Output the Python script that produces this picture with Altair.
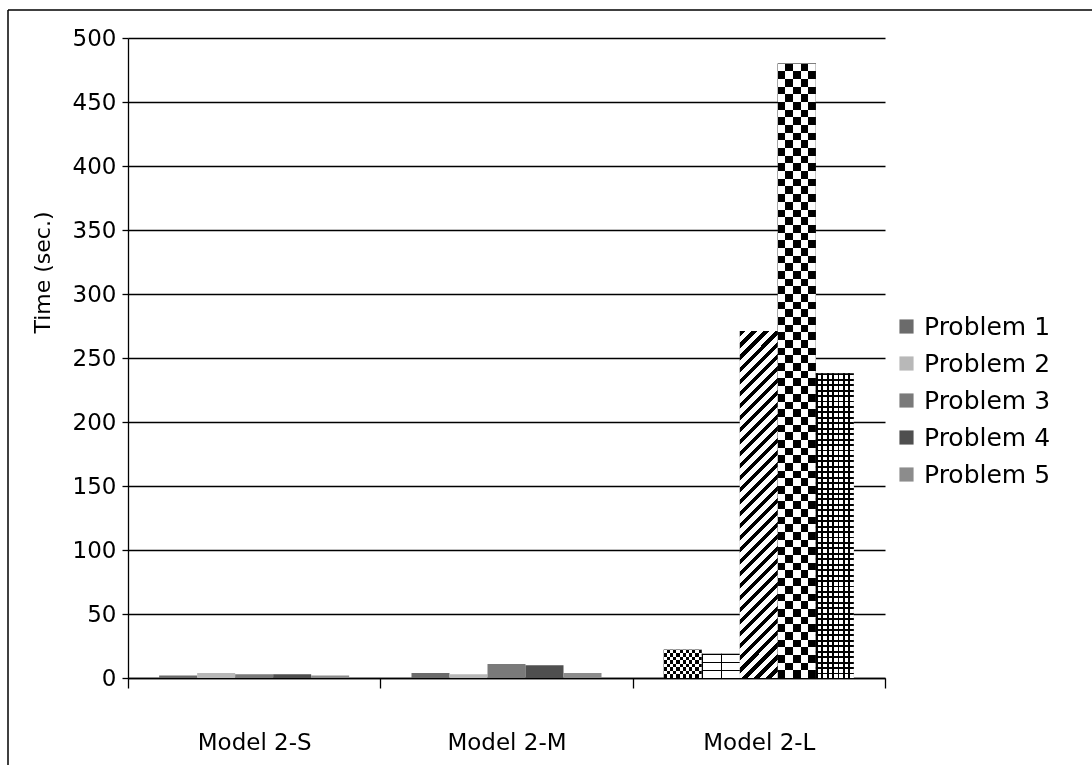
import altair as alt
import pandas as pd

models = ["Model 2-S", "Model 2-M", "Model 2-L"]
problems = ["Problem 1", "Problem 2", "Problem 3", "Problem 4", "Problem 5"]
vals_2s = [2, 4, 3, 3, 2]
vals_2m = [4, 3, 11, 10, 4]
vals_2l = [22, 19, 271, 480, 238]
y_ticks = [0, 50, 100, 150, 200, 250, 300, 350, 400, 450, 500]

rows = []
for m, vals in zip(models, [vals_2s, vals_2m, vals_2l]):
    for p, v in zip(problems, vals):
        rows.append({"model": m, "problem": p, "time": v})
df = pd.DataFrame(rows)

W, H = 757, 640
FONT = "DejaVu Sans"


def stripes(n, frac, c_on, c_off, x2, y2):
    stops = []
    for i in range(n):
        a, b, c = i / n, (i + frac) / n, (i + 1) / n
        stops += [(a, c_on), (b, c_on), (b, c_off), (c, c_off)]
    return {"gradient": "linear", "x1": 0, "y1": 0, "x2": x2, "y2": y2,
            "stops": [{"offset": round(o, 5), "color": col} for o, col in stops]}


BLK, WHT, CLR = "#000000", "#ffffff", "rgba(0,0,0,0)"

x_enc = alt.X("model:N", sort=models, title=None,
              scale=alt.Scale(paddingInner=0, paddingOuter=0),
              axis=alt.Axis(labelAngle=0, tickBand="extent", tickSize=10,
                            labelPadding=43, labelFontSize=23, labelFont=FONT,
                            domainColor="black", tickColor="black", domainWidth=1.5,
                            tickWidth=1.3, labelColor="black", grid=False))
xo_enc = alt.XOffset("problem:N", sort=problems,
                     scale=alt.Scale(domain=problems, paddingInner=0, paddingOuter=0.82))
y_enc = alt.Y("time:Q", title="Time (sec.)",
              scale=alt.Scale(domain=[0, 500], nice=False),
              axis=alt.Axis(values=y_ticks, grid=True, gridColor="black", gridWidth=1.3,
                            domainColor="black", tickColor="black", tickSize=6,
                            domainWidth=1.3, tickWidth=1.3,
                            labelPadding=6, labelFontSize=23, labelFont=FONT,
                            labelColor="black", titleFont=FONT, titleFontSize=22,
                            titleFontWeight="normal", titleColor="black",
                            titleAngle=-90, titleX=-86, titleY=234,
                            titleAlign="center", titleBaseline="middle"))

base = alt.Chart(df).mark_bar().encode(
    x=x_enc, xOffset=xo_enc, y=y_enc,
    color=alt.Color("problem:N", sort=problems,
                    scale=alt.Scale(domain=problems,
                                    range=["#6b6b6b", "#b8b8b8", "#7a7a7a", "#4f4f4f", "#8c8c8c"]),
                    legend=alt.Legend(title=None, orient="none", legendX=766, legendY=276,
                                      symbolType="square", symbolSize=200, symbolStrokeWidth=0,
                                      labelFont=FONT, labelFontSize=25, labelColor="black",
                                      rowPadding=11, labelOffset=5)),
)


def overlay(problem, fill, blend=None):
    kw = {"fill": fill}
    if blend:
        kw["blend"] = blend
    return alt.Chart(df).transform_filter(
        (alt.datum.model == "Model 2-L") & (alt.datum.problem == problem)
    ).mark_bar(**kw).encode(x=x_enc, xOffset=xo_enc, y=y_enc)


layers = [base]
# Problem 1: fine checker
layers.append(overlay("Problem 1", stripes(6, 0.5, BLK, WHT, 1, 0)))
layers.append(overlay("Problem 1", stripes(4, 0.5, WHT, CLR, 0, 1), "difference"))
# Problem 2: brick-like
layers.append(overlay("Problem 2", stripes(2, 0.08, BLK, WHT, 1, 0)))
layers.append(overlay("Problem 2", stripes(3, 0.15, BLK, CLR, 0, 1)))
# Problem 3: diagonal stripes
layers.append(overlay("Problem 3", stripes(32, 0.45, BLK, WHT, 0.1202, 1.096)))
# Problem 4: coarse checker
layers.append(overlay("Problem 4", stripes(3, 0.5, BLK, WHT, 1.2, 0)))
layers.append(overlay("Problem 4", stripes(40, 0.5, WHT, CLR, 0, 1), "difference"))
# Problem 5: grid
layers.append(overlay("Problem 5", stripes(7, 0.35, BLK, WHT, 1, 0)))
layers.append(overlay("Problem 5", stripes(56, 0.35, BLK, CLR, 0, 1)))

frame_df = pd.DataFrame({"k": [0]})
frame_left = alt.Chart(frame_df).mark_rule(color="black", strokeWidth=1.5).encode(
    x=alt.value(-120), y=alt.value(-28), y2=alt.value(H + 127))
frame_top = alt.Chart(frame_df).mark_rule(color="black", strokeWidth=1.5).encode(
    x=alt.value(-120), x2=alt.value(W + 207), y=alt.value(-28))
layers += [frame_left, frame_top]

chart = alt.layer(*layers).properties(
    width=W, height=H,
    autosize=alt.AutoSizeParams(type="none"),
    padding={"left": 128, "top": 38, "right": 207, "bottom": 87},
    background="white",
).configure_view(stroke=None)

chart.save("out.html", embed_options={"renderer": "svg", "actions": False})
